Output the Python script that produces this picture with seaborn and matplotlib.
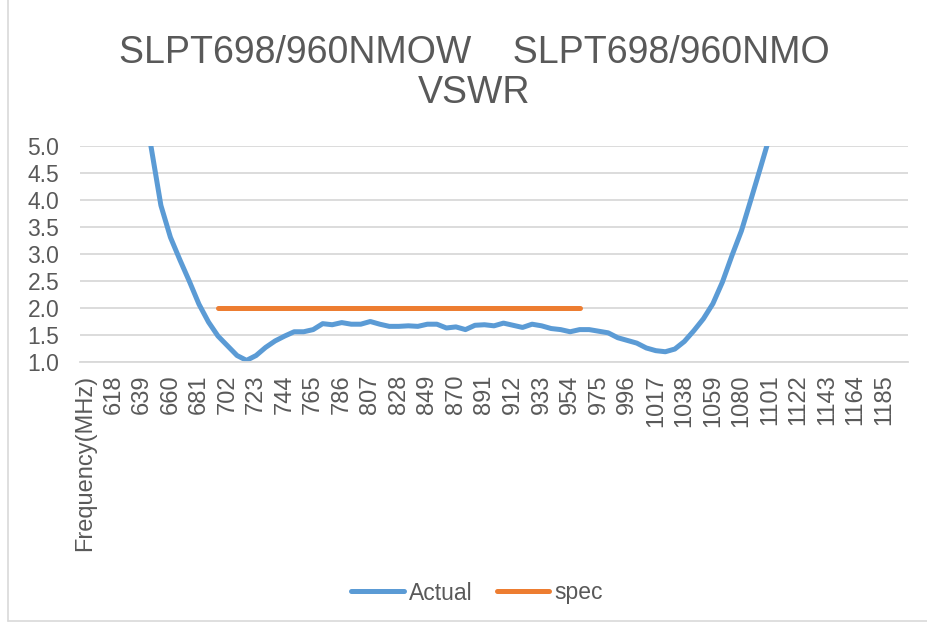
import numpy as np
import pandas as pd
import matplotlib
matplotlib.use("Agg")
import matplotlib.pyplot as plt
import seaborn as sns
from matplotlib.lines import Line2D

# ---- data ----
title = "SLPT698/960NMOW    SLPT698/960NMO\nVSWR"
first_category = "Frequency(MHz)"
freq_start, freq_step, n_freq = 604, 7, 86          # category axis 604..1199 MHz
tick_labels = ["Frequency(MHz)", "618", "639", "660", "681", "702", "723", "744", "765",
               "786", "807", "828", "849", "870", "891", "912", "933", "954", "975",
               "996", "1017", "1038", "1059", "1080", "1101", "1122", "1143", "1164", "1185"]

# Actual VSWR, starting at category index 6
actual_start = 6
actual_values = [6.00, 4.95, 3.90, 3.31, 2.89, 2.49, 2.07, 1.74, 1.48, 1.30,
                 1.12, 1.03, 1.12, 1.27, 1.39, 1.48, 1.56, 1.56, 1.60, 1.71,
                 1.69, 1.73, 1.70, 1.70, 1.75, 1.70, 1.66, 1.66, 1.67, 1.66,
                 1.70, 1.70, 1.63, 1.65, 1.60, 1.68, 1.69, 1.67, 1.72, 1.68,
                 1.64, 1.70, 1.67, 1.62, 1.60, 1.56, 1.60, 1.60, 1.57, 1.54,
                 1.45, 1.40, 1.35, 1.26, 1.21, 1.19, 1.24, 1.38, 1.58, 1.80,
                 2.08, 2.48, 2.97, 3.43, 4.01, 4.60, 5.20, 5.90]
# spec line
spec_start, spec_end, spec_value = 14, 52, 2.0

# ---- build table ----
categories = [first_category] + [str(freq_start + freq_step * k) for k in range(n_freq)]
n_cat = len(categories)
pos = np.arange(n_cat)
actual = np.full(n_cat, np.nan)
actual[actual_start:actual_start + len(actual_values)] = actual_values
spec = np.full(n_cat, np.nan)
spec[spec_start:spec_end + 1] = spec_value
df = pd.DataFrame({"pos": pos, "category": categories, "Actual": actual, "spec": spec})

# ---- style ----
sns.set_style("white")
plt.rcParams["font.family"] = ["Liberation Sans", "DejaVu Sans"]
text_color = "#595959"
grid_color = "#d9d9d9"
blue = "#5B9BD5"
orange = "#ED7D31"
lw = 3.6
fs = 16.5

W, H = 927, 627
fig = plt.figure(figsize=(W / 100, H / 100), dpi=100)
left, right, top, bottom = 80, 908, 146, 362
ax = fig.add_axes([left / W, 1 - bottom / H, (right - left) / W, (bottom - top) / H])

da = df.dropna(subset=["Actual"])
ds = df.dropna(subset=["spec"])
sns.lineplot(data=da, x="pos", y="Actual", ax=ax, color=blue, linewidth=lw,
             sort=False, legend=False, solid_capstyle="round", solid_joinstyle="round")
sns.lineplot(data=ds, x="pos", y="spec", ax=ax, color=orange, linewidth=lw,
             sort=False, legend=False, solid_capstyle="round")

ax.set_xlim(-0.5, n_cat - 0.5)
ax.set_ylim(1.0, 5.0)
ax.set_yticks(np.arange(1.0, 5.01, 0.5))
ax.set_yticklabels([f"{v:.1f}" for v in np.arange(1.0, 5.01, 0.5)])
label_pos = [categories.index(t) for t in tick_labels]
ax.set_xticks(label_pos)
ax.set_xticklabels(tick_labels, rotation=90)
ax.tick_params(axis="both", length=0, labelsize=fs, colors=text_color)
ax.tick_params(axis="x", pad=9, labelsize=17)
ax.tick_params(axis="y", pad=15)
ax.grid(axis="y", color=grid_color, linewidth=1.3)
ax.set_axisbelow(True)
for s in ["top", "right", "left"]:
    ax.spines[s].set_visible(False)
ax.spines["bottom"].set_color(grid_color)
ax.spines["bottom"].set_linewidth(1.3)
ax.set_xlabel("")
ax.set_ylabel("")

fig.text(474 / W, 1 - 73 / H, title, ha="center", va="center", fontsize=27,
         color=text_color, linespacing=1.12)

handles = [Line2D([], [], color=blue, linewidth=lw, solid_capstyle="round"),
           Line2D([], [], color=orange, linewidth=lw, solid_capstyle="round")]
leg = fig.legend(handles, ["Actual", "spec"], loc="center",
                 bbox_to_anchor=(477 / W, 1 - 593 / H), ncol=2, frameon=False,
                 fontsize=fs, handlelength=2.3, handletextpad=0.22, columnspacing=1.05)
for t in leg.get_texts():
    t.set_color(text_color)

# chart area border
fig.add_artist(Line2D([8 / W, 8 / W], [1 - 621 / H, 1.0], transform=fig.transFigure,
                      color=grid_color, linewidth=1.2))
fig.add_artist(Line2D([8 / W, 1.0], [1 - 621 / H, 1 - 621 / H], transform=fig.transFigure,
                      color=grid_color, linewidth=1.2))

fig.savefig("out.png", dpi=100, facecolor="white")
